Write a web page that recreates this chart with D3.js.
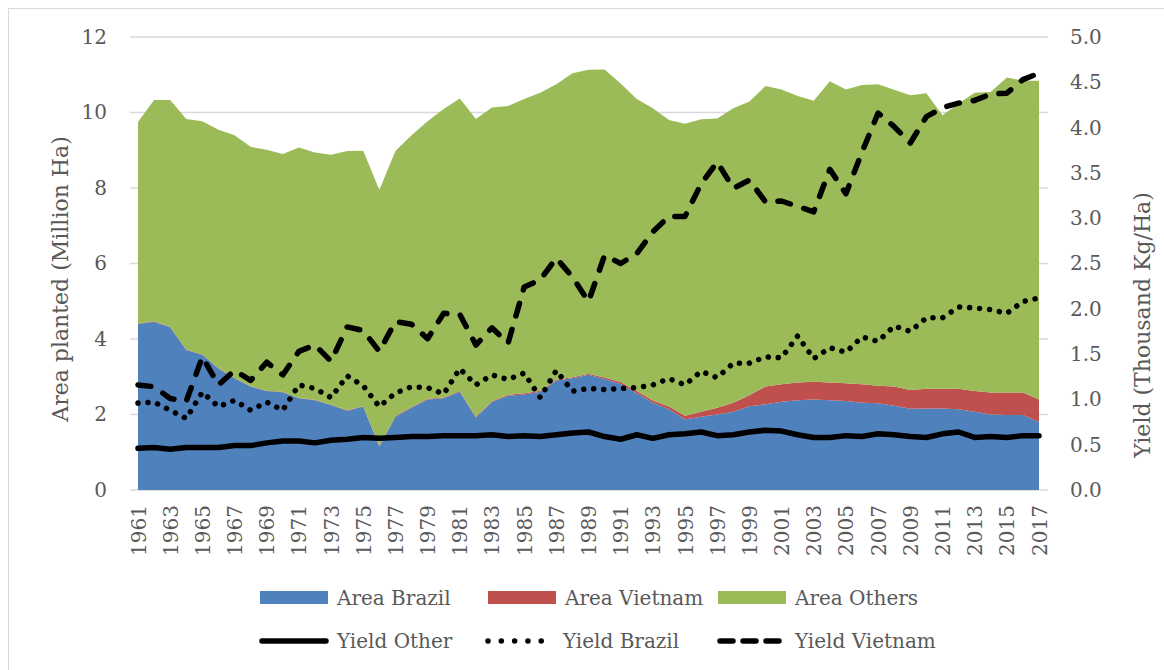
<!DOCTYPE html>
<html>
<head>
<meta charset="utf-8">
<script src="https://cdn.jsdelivr.net/npm/d3@7"></script>
<style>
  body { margin: 0; background: #fff; }
  svg { display: block; font-family: "DejaVu Serif", serif; }
  .grid line { stroke: #d9d9d9; stroke-width: 1.3; }
  text { fill: #595959; }
</style>
</head>
<body>
<svg width="1164" height="670"></svg>
<script>
var years = d3.range(1961, 2018);

// area planted, million ha
var areaBrazil = [4.40, 4.46, 4.31, 3.71, 3.58, 3.22, 2.96, 2.74, 2.62, 2.59,
  2.43, 2.38, 2.25, 2.10, 2.21, 1.15, 1.94, 2.18, 2.40, 2.43,
  2.60, 1.92, 2.33, 2.50, 2.53, 2.60, 2.90, 2.96, 3.05, 2.94,
  2.81, 2.56, 2.31, 2.14, 1.87, 1.94, 2.00, 2.07, 2.22, 2.27,
  2.34, 2.38, 2.40, 2.38, 2.36, 2.31, 2.30, 2.23, 2.15, 2.16,
  2.16, 2.14, 2.07, 2.00, 1.99, 1.99, 1.81];
var areaVietnam = [0.01, 0.01, 0.01, 0.01, 0.01, 0.01, 0.01, 0.01, 0.01, 0.01,
  0.01, 0.01, 0.01, 0.01, 0.01, 0.02, 0.02, 0.02, 0.02, 0.02,
  0.02, 0.02, 0.02, 0.02, 0.03, 0.03, 0.03, 0.03, 0.03, 0.04,
  0.05, 0.06, 0.06, 0.07, 0.10, 0.13, 0.18, 0.24, 0.29, 0.47,
  0.46, 0.47, 0.47, 0.47, 0.47, 0.49, 0.46, 0.51, 0.50, 0.52,
  0.52, 0.54, 0.55, 0.58, 0.59, 0.59, 0.59];
var areaOthers = [5.34, 5.86, 6.01, 6.11, 6.18, 6.31, 6.43, 6.34, 6.38, 6.30,
  6.63, 6.55, 6.62, 6.87, 6.77, 6.78, 7.02, 7.20, 7.35, 7.64,
  7.75, 7.89, 7.78, 7.65, 7.80, 7.89, 7.82, 8.05, 8.05, 8.16,
  7.91, 7.74, 7.74, 7.59, 7.73, 7.75, 7.66, 7.80, 7.78, 7.96,
  7.81, 7.59, 7.44, 7.98, 7.78, 7.93, 7.99, 7.86, 7.81, 7.83,
  7.25, 7.56, 7.90, 7.96, 8.35, 8.26, 8.44];

// yield, thousand kg/ha
var yieldOther = [0.46, 0.47, 0.45, 0.47, 0.47, 0.47, 0.49, 0.49, 0.52, 0.54,
  0.54, 0.52, 0.55, 0.56, 0.58, 0.57, 0.58, 0.59, 0.59, 0.60,
  0.60, 0.60, 0.61, 0.59, 0.60, 0.59, 0.61, 0.63, 0.64, 0.59,
  0.56, 0.61, 0.57, 0.61, 0.62, 0.64, 0.60, 0.61, 0.64, 0.66,
  0.65, 0.61, 0.58, 0.58, 0.60, 0.59, 0.62, 0.61, 0.59, 0.58,
  0.62, 0.64, 0.58, 0.59, 0.58, 0.60, 0.60];
var yieldBrazil = [0.96, 0.97, 0.88, 0.79, 1.08, 0.92, 0.99, 0.88, 0.97, 0.88,
  1.16, 1.12, 1.02, 1.26, 1.15, 0.92, 1.07, 1.14, 1.13, 1.06,
  1.34, 1.16, 1.27, 1.22, 1.29, 1.02, 1.32, 1.09, 1.12, 1.11,
  1.12, 1.13, 1.16, 1.23, 1.16, 1.31, 1.24, 1.40, 1.40, 1.47,
  1.46, 1.70, 1.45, 1.57, 1.52, 1.69, 1.64, 1.81, 1.75, 1.90,
  1.90, 2.02, 2.01, 1.99, 1.95, 2.08, 2.12];
var yieldVietnam = [1.16, 1.14, 1.01, 0.98, 1.47, 1.16, 1.32, 1.21, 1.41, 1.27,
  1.53, 1.60, 1.42, 1.80, 1.76, 1.53, 1.86, 1.83, 1.67, 1.95,
  1.94, 1.60, 1.79, 1.62, 2.24, 2.32, 2.56, 2.35, 2.08, 2.59,
  2.50, 2.61, 2.85, 3.02, 3.02, 3.38, 3.62, 3.33, 3.42, 3.18,
  3.19, 3.13, 3.07, 3.54, 3.27, 3.73, 4.16, 4.01, 3.83, 4.12,
  4.22, 4.27, 4.30, 4.37, 4.38, 4.53, 4.60];

var leftTicks = [0, 2, 4, 6, 8, 10, 12];
var rightTicks = [0, 0.5, 1, 1.5, 2, 2.5, 3, 3.5, 4, 4.5, 5];

var areaKeys = ["Area Brazil", "Area Vietnam", "Area Others"],
    areaColor = {"Area Brazil": "#4f81bd", "Area Vietnam": "#c0504d", "Area Others": "#9bbb59"};

var rows = years.map(function(y, i) {
  return {year: y, "Area Brazil": areaBrazil[i], "Area Vietnam": areaVietnam[i], "Area Others": areaOthers[i]};
});

var yieldSeries = [
  {name: "Yield Other", values: yieldOther, dash: null},
  {name: "Yield Brazil", values: yieldBrazil, dash: "0.01,10"},
  {name: "Yield Vietnam", values: yieldVietnam, dash: "13,14"}
];

var svg = d3.select("svg");

// chart border
svg.append("rect")
    .attr("x", 8.5).attr("y", 8.5)
    .attr("width", 1164).attr("height", 670)
    .attr("fill", "none")
    .attr("stroke", "#d9d9d9");

var x = d3.scalePoint().domain(years).range([138, 1039]),
    yL = d3.scaleLinear().domain([0, 12]).range([490, 37]),
    yR = d3.scaleLinear().domain([0, 5]).range([490, 37]);

// gridlines
svg.append("g")
    .attr("class", "grid")
  .selectAll("line")
  .data(leftTicks)
  .enter().append("line")
    .attr("x1", 130).attr("x2", 1048)
    .attr("y1", function(d) { return yL(d); })
    .attr("y2", function(d) { return yL(d); });

// stacked areas
var stack = d3.stack().keys(areaKeys);
var area = d3.area()
    .x(function(d) { return x(d.data.year); })
    .y0(function(d) { return yL(d[0]); })
    .y1(function(d) { return yL(d[1]); });

svg.append("g").selectAll("path")
  .data(stack(rows))
  .enter().append("path")
    .attr("fill", function(d) { return areaColor[d.key]; })
    .attr("d", area);

// yield lines
var line = d3.line()
    .x(function(d, i) { return x(years[i]); })
    .y(function(d) { return yR(d); });

svg.append("g").selectAll("path")
  .data(yieldSeries)
  .enter().append("path")
    .attr("fill", "none")
    .attr("stroke", "#000")
    .attr("stroke-width", 5.5)
    .attr("stroke-linecap", "round")
    .attr("stroke-linejoin", "round")
    .attr("stroke-dasharray", function(d) { return d.dash; })
    .attr("d", function(d) { return line(d.values); });

function styleAxis(g) {
  g.attr("font-family", null).attr("font-size", null);
  g.select(".domain").remove();
  g.selectAll("text")
      .style("font-size", "20px")
      .attr("fill", "#595959");
}

// left axis
svg.append("g")
    .attr("transform", "translate(107,0)")
    .call(d3.axisLeft(yL).tickValues(leftTicks).tickSize(0).tickPadding(0))
    .call(styleAxis);

// right axis
svg.append("g")
    .attr("transform", "translate(1070,0)")
    .call(d3.axisRight(yR).tickValues(rightTicks).tickFormat(d3.format(".1f")).tickSize(0).tickPadding(0))
    .call(styleAxis);

// x axis, every second year
var axX = svg.append("g")
    .attr("transform", "translate(0,505)")
    .call(d3.axisBottom(x).tickValues(years.filter(function(d, i) { return i % 2 === 0; })).tickSize(0).tickPadding(0))
    .call(styleAxis);
axX.selectAll("text")
    .attr("transform", "rotate(-90)")
    .attr("text-anchor", "end")
    .attr("x", 0)
    .attr("y", 0)
    .attr("dy", "0.35em");

// axis titles
svg.append("text")
    .attr("transform", "translate(68,279) rotate(-90)")
    .attr("text-anchor", "middle")
    .style("font-size", "22px")
    .text("Area planted (Million Ha)");

svg.append("text")
    .attr("transform", "translate(1150,325) rotate(-90)")
    .attr("text-anchor", "middle")
    .style("font-size", "22px")
    .text("Yield (Thousand Kg/Ha)");

// legend
var legendItems = [
  {name: "Area Brazil", kind: "area", lx: 260, ly: 598},
  {name: "Area Vietnam", kind: "area", lx: 488, ly: 598},
  {name: "Area Others", kind: "area", lx: 718, ly: 598},
  {name: "Yield Other", kind: "line", dash: null, lx: 262, ly: 641},
  {name: "Yield Brazil", kind: "line", dash: "0.01,13.3", lx: 488, ly: 641},
  {name: "Yield Vietnam", kind: "line", dash: "13,10", lx: 720, ly: 641}
];

var leg = svg.append("g").selectAll("g")
  .data(legendItems)
  .enter().append("g")
    .attr("transform", function(d) { return "translate(" + d.lx + "," + d.ly + ")"; });

leg.filter(function(d) { return d.kind === "area"; })
  .append("rect")
    .attr("x", 0).attr("y", -7)
    .attr("width", 68).attr("height", 13)
    .attr("fill", function(d) { return areaColor[d.name]; });

leg.filter(function(d) { return d.kind === "line"; })
  .append("line")
    .attr("x1", 0).attr("x2", 64)
    .attr("stroke", "#000")
    .attr("stroke-width", 5.5)
    .attr("stroke-linecap", "round")
    .attr("stroke-dasharray", function(d) { return d.dash; });

leg.append("text")
    .attr("x", function(d) { return d.kind === "area" ? 77 : 75; })
    .attr("dy", "0.35em")
    .style("font-size", "20px")
    .text(function(d) { return d.name; });
</script>
</body>
</html>
